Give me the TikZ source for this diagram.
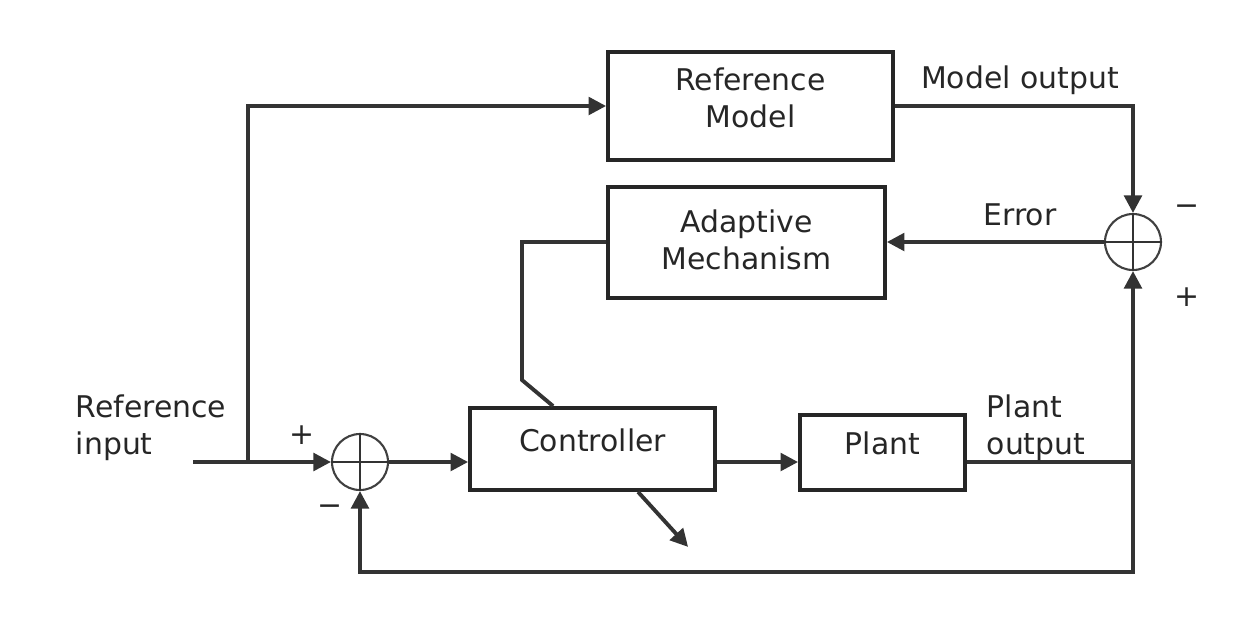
\documentclass[tikz,border=0pt]{standalone}
\usepackage{fontspec}
\setmainfont{DejaVu Sans}
\usetikzlibrary{arrows.meta}
\usetikzlibrary{positioning}
\usetikzlibrary{calc}

\begin{document}
\begin{tikzpicture}[x=0.02cm, y=-0.02cm,
	every node/.style={font=\fontsize{17}{21}\selectfont, text=black!85},
	block/.style={draw=black!85, line width=2.2pt, align=center, inner sep=0pt},
	sum/.style={draw=black!75, circle, line width=1.2pt, minimum size=1.12cm, inner sep=0pt},
	link/.style={line width=2.2pt, draw=black!80},
	tip/.style={-{Triangle[length=10pt,width=10pt]}},
	sign/.style={font=\fontsize{17}{19}\selectfont}]
			\useasboundingbox (0,0) rectangle (1249,630);
			
			% blocks
			\node[block, minimum width=5.7cm, minimum height=2.16cm, text depth=0.32cm] (refmodel) at (750.5,106) {Reference\\Model};
			\node[block, minimum width=5.54cm, minimum height=2.22cm, text depth=0.13cm] (adaptive) at (746.5,242.5) {Adaptive\\Mechanism};
			\node[block, minimum width=4.9cm, minimum height=1.64cm, text depth=0.36cm] (controller) at (592.5,449) {Controller};
			\node[block, minimum width=3.3cm, minimum height=1.5cm, text depth=0.38cm] (plant) at (882.5,452.5) {Plant};
			
			% summing points
			\node[sum] (sumA) at (360,462) {};
			\node[sum] (sumB) at (1133,242) {};
			\draw[black!80, line width=1.4pt] (sumA.north) -- (sumA.south) (sumA.west) -- (sumA.east);
			\draw[black!80, line width=1.4pt] (sumB.north) -- (sumB.south) (sumB.west) -- (sumB.east);
			
			\coordinate (in) at (193,462);
			\coordinate (split) at (248,462);
			\coordinate (out) at (1133,462);
			\coordinate (low) at (1133,572);
			
			% forward path
			\draw[link,tip] (in) -- (sumA.west);
			\draw[link,tip] (split) |- (refmodel.west);
			\draw[link,tip] (sumA.east) -- (sumA.east -| controller.west);
			\draw[link,tip] (controller.east |- out) -- (plant.west |- out);
			\draw[link] (plant.east |- out) -- (out);
			
			% feedback paths
			\draw[link,tip] (out) -- (sumB.south);
			\draw[link,tip] (out) -- (low) -| (sumA.south);
			\draw[link,tip] (refmodel.east) -| (sumB.north);
			\draw[link,tip] (sumB.west) -- (adaptive.east |- sumB.west);
			\draw[link] (adaptive.west |- sumB) -- (522,242) -- (522,380) -- ($(controller.north west)+(85,0)$);
			\draw[link,tip] ($(controller.south west)+(170,0)$) -- ++(50,55);
			
			% labels
			\node[align=left] (lblin) at (151,428) {Reference\\input};
			\node[align=left] (lblout) at (1036,428) {Plant\\output};
			\node (lblmodel) at (1020,80) {Model output};
			\node (lblerr) at (1020,215) {Error};
			\node[sign] at (302,435) {+};
			\node[sign] at (330,510) {−};
			\node[sign] at (1187,210) {−};
			\node[sign] at (1187,297) {+};
\end{tikzpicture}
\end{document}
